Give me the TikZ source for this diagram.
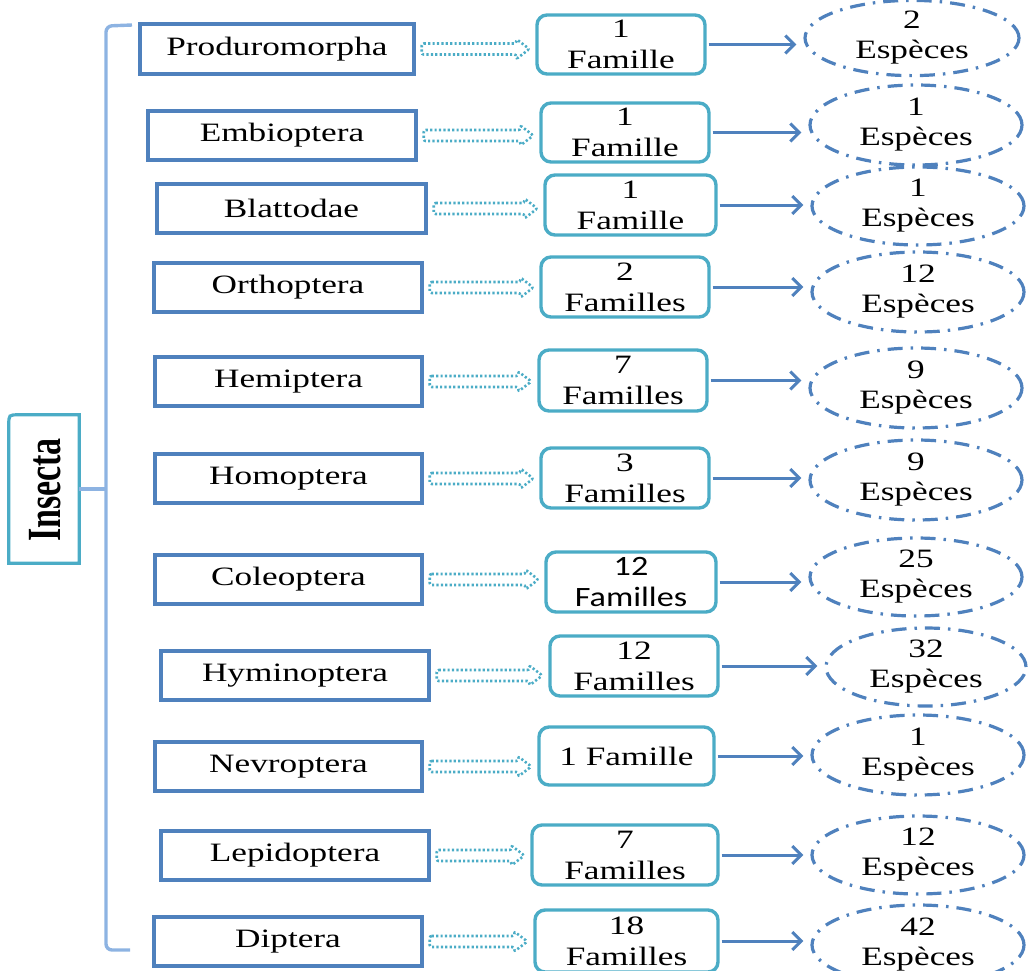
\documentclass[tikz,border=0pt]{standalone}
\usepackage{fontspec}
\setmainfont[FakeStretch=1.33]{Liberation Serif}
\newfontfamily\sansstretch[FakeStretch=1.22]{Carlito}
\newfontfamily\plainserif{Liberation Serif}
\usetikzlibrary{calc,shapes.geometric,arrows.meta}
\definecolor{lblue}{HTML}{4F81BD}
\definecolor{cyanb}{HTML}{4BACC6}
\definecolor{brk}{HTML}{8DB3E2}
\newcommand\dotarrow[2]{%
  \draw[darrow] ($(#1.east)+(6,-5.5)$) -- ($(#1.east -| #2.west)+(-19,-5.5)$)
    -- ($(#1.east -| #2.west)+(-19,-10)$) -- ($(#1.east -| #2.west)+(-6,0)$)
    -- ($(#1.east -| #2.west)+(-19,10)$) -- ($(#1.east -| #2.west)+(-19,5.5)$)
    -- ($(#1.east)+(6,5.5)$) -- cycle;}
\newcommand\solidarrow[2]{%
  \draw[sarrow] (#1.east) -- (#1.east -| #2.west);}
\begin{document}
\begin{tikzpicture}[x=1pt,y=-1pt,
  txt/.style={font=\fontsize{26.5}{31}\selectfont},
  lbox/.style={draw=lblue, line width=3.4pt, inner sep=0pt, txt},
  mbox/.style={draw=cyanb, line width=3.4pt, rounded corners=10pt, inner sep=0pt, align=center, txt},
  ebox/.style={draw=lblue, ellipse, line width=3.2pt, dash pattern=on 15pt off 8pt on 2.5pt off 8pt, inner sep=0pt, align=center, txt},
  darrow/.style={draw=cyanb, line width=2.6pt, dash pattern=on 2.2pt off 2.2pt, rounded corners=2pt},
  sarrow/.style={draw=lblue, line width=3pt, shorten <=2pt, shorten >=7pt, -{Straight Barb[length=9pt,width=18pt,line width=3pt]}},
  brace/.style={draw=brk, line width=3.4pt}
]
\useasboundingbox (0,0) rectangle (1028,970);
\clip (0,0) rectangle (1028,970);

% rows
\foreach \n/\lx/\ly/\lw/\lh/\lt/\mx/\my/\mw/\mh/\ex/\ey/\ew/\eh/\ea in {
  1/277/49/274/50/Produromorpha/621/44.5/168/59/912/38/214/74/2,
  2/282/135.5/268/49/Embioptera/625/132.5/168/59/916/125/212/80/1,
  3/291.5/208.5/269/49/Blattodae/630.5/205/171/60/918/206/212/78/1,
  4/288/287.5/268/49/Orthoptera/625/287/168/60/918/292/212/80/12,
  5/288.5/381.5/267/49/Hemiptera/623/380.5/168/61/916/388/212/80/9,
  6/288.5/478.5/267/49/Homoptera/625/478/168/60/916/480/212/80/9,
  7/288.5/579.5/267/49/Coleoptera/631/582/170/60/916/577/212/78/25,
  8/295/675.5/268/49/Hyminoptera/634/666/168/60/926/667/200/78/32,
  9/288.5/766.5/267/49/Nevroptera/626.5/756/175/58/918/755/212/80/1,
  10/295/855.5/268/49/Lepidoptera/625/855/186/60/918/855/212/78/12,
  11/288/941.5/268/49/Diptera/626.5/941/183/62/918/945/212/80/42}{
  \node[lbox, minimum width=\lw, minimum height=\lh] (l\n) at (\lx,\ly) {\lt};
  \node[mbox, minimum width=\mw, minimum height=\mh] (m\n) at (\mx,\my) {};
  \node[ebox, minimum width=\ew, minimum height=\eh] (e\n) at (\ex,\ey) {\ea\\[-1pt]Esp\`eces};
}

% middle box texts
\node[txt, align=center] (t1) at (m1) {1\\Famille};
\node[txt, align=center] (t2) at (m2) {1\\Famille};
\node[txt, align=center] (t3) at (m3) {1\\Famille};
\node[txt, align=center] (t4) at (m4) {2\\Familles};
\node[txt, align=center] (t5) at (m5) {7\\Familles};
\node[txt, align=center] (t6) at (m6) {3\\Familles};
\node[align=center, font=\sansstretch\fontsize{28}{31}\selectfont] (t7) at (m7) {12\\Familles};
\node[txt, align=center] (t8) at (m8) {12\\Familles};
\node[txt, align=center] (t9) at (m9) {1 Famille};
\node[txt, align=center] (t10) at (m10) {7\\Familles};
\node[txt, align=center] (t11) at (m11) {18\\Familles};

% connectors
\foreach \n in {1,...,11}{
  \dotarrow{l\n}{m\n}
  \solidarrow{m\n}{e\n}
}

% Insecta box
\node[minimum width=70, minimum height=148, inner sep=0pt] (ins) at (44,489) {};
\draw[draw=cyanb, line width=3.2pt] (ins.south west) -- ([yshift=-10pt]ins.north west)
  .. controls (ins.north west) .. ([xshift=10pt]ins.north west) -- (ins.north east)
  -- (ins.south east) -- cycle;
\node[rotate=90, inner sep=0pt] (inst) at (45.5,490)
  {\scalebox{1}[1.4]{\plainserif\bfseries\fontsize{34}{34}\selectfont Insecta}};

% bracket
\coordinate (btop) at (132,25);
\coordinate (bbot) at (130,950);
\coordinate (bmid) at (106,489);
\draw[brace, rounded corners=6pt] (btop) -- (106,26) -- (106,950) -- (bbot);
\draw[brace] (ins.east) -- (bmid);
\end{tikzpicture}
\end{document}
